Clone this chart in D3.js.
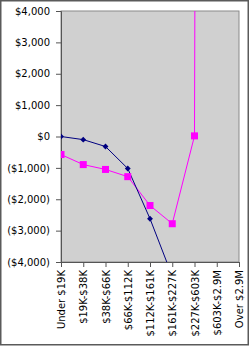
<!DOCTYPE html>
<html>
<head>
<meta charset="utf-8">
<script src="https://cdn.jsdelivr.net/npm/d3@7"></script>
<style>
  body { margin: 0; background: #fff; }
  svg { display: block; }
  text { font-family: "DejaVu Sans", sans-serif; font-size: 10px; fill: #000; }
</style>
</head>
<body>
<script>
// income brackets
const brackets = ["Under $19K", "$19K-$38K", "$38K-$66K", "$66K-$112K", "$112K-$161K",
  "$161K-$227K", "$227K-$603K", "$603K-$2.9M", "Over $2.9M"];

// navy series (diamonds) - off the bottom after $112K-$161K
const navyVals = [0, -100, -320, -1020, -2620, -4450, -9000, -30000, -90000];
// magenta series (squares) - shoots off the top after $227K-$603K
const pinkVals = [-575, -895, -1050, -1280, -2200, -2780, 20, 250000, 900000];

const yTicks = [4000, 3000, 2000, 1000, 0, -1000, -2000, -3000, -4000];

const width = 250, height = 347;

const svg = d3.select("body").append("svg")
    .attr("width", width)
    .attr("height", height);

// outer frame
svg.append("rect")
    .attr("x", 0.75).attr("y", 0.75)
    .attr("width", width - 2.5).attr("height", height - 3)
    .attr("fill", "#fff")
    .attr("stroke", "#5a5a5a")
    .attr("stroke-width", 1.5);

var x = d3.scalePoint()
    .domain(brackets)
    .range([61, 239]);

var y = d3.scaleLinear()
    .domain([-4000, 4000])
    .range([262, 11]);

// plot background
svg.append("rect")
    .attr("x", 61).attr("y", 11)
    .attr("width", 178).attr("height", 251)
    .attr("fill", "#d0d0d0")
    .attr("stroke", "#8a8a8a")
    .attr("stroke-width", 1);

svg.append("clipPath").attr("id", "plot")
  .append("rect")
    .attr("x", 61).attr("y", 11)
    .attr("width", 178).attr("height", 251);

function money(d) {
  let s = "$" + d3.format(",")(Math.abs(d));
  return d < 0 ? "(" + s + ")" : s;
}

// y axis
var yAxis = svg.append("g")
    .attr("transform", "translate(61,0)")
    .call(d3.axisLeft(y).tickValues(yTicks).tickSize(5).tickPadding(6).tickFormat(money));
yAxis.select(".domain").attr("stroke", "#555");
yAxis.selectAll(".tick line").attr("stroke", "#555");
yAxis.selectAll("text").attr("font-size", 10).attr("font-family", "DejaVu Sans");

// x axis
var xAxis = svg.append("g")
    .attr("transform", "translate(0,262)")
    .call(d3.axisBottom(x).tickSize(5).tickPadding(4).tickSizeOuter(0));
xAxis.select(".domain").attr("stroke", "#555");
xAxis.selectAll(".tick line").attr("stroke", "#555");
xAxis.selectAll("text")
    .attr("font-size", 10)
    .attr("font-family", "DejaVu Sans")
    .attr("text-anchor", "end")
    .attr("transform", "rotate(-90)")
    .attr("x", -8)
    .attr("y", 0)
    .attr("dy", "0.35em");

var line = d3.line()
    .x((d, i) => x(brackets[i]))
    .y(d => y(d));

var marks = svg.append("g").attr("clip-path", "url(#plot)");

// magenta
marks.append("path")
    .datum(pinkVals)
    .attr("d", line)
    .attr("fill", "none")
    .attr("stroke", "#ff00ff")
    .attr("stroke-width", 1);

// navy
marks.append("path")
    .datum(navyVals)
    .attr("d", line)
    .attr("fill", "none")
    .attr("stroke", "#000080")
    .attr("stroke-width", 1);

marks.selectAll(".sq")
    .data(pinkVals)
    .enter().append("rect")
    .attr("class", "sq")
    .attr("x", (d, i) => x(brackets[i]) - 3.5)
    .attr("y", d => y(d) - 3.5)
    .attr("width", 7).attr("height", 7)
    .attr("fill", "#ff00ff");

marks.selectAll(".dia")
    .data(navyVals)
    .enter().append("path")
    .attr("class", "dia")
    .attr("d", d3.symbol().type(d3.symbolDiamond2).size(22))
    .attr("transform", (d, i) => "translate(" + x(brackets[i]) + "," + y(d) + ")")
    .attr("fill", "#000080");
</script>
</body>
</html>
